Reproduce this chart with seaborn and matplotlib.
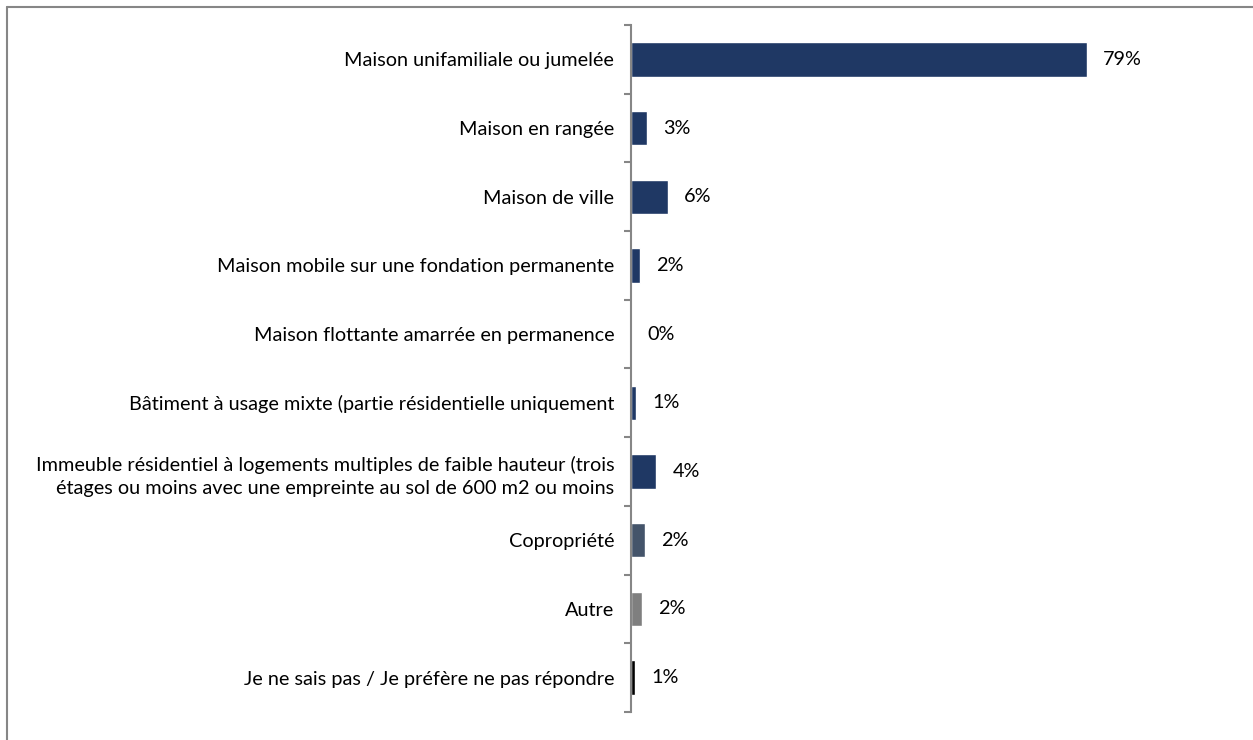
import matplotlib
matplotlib.use("Agg")
import matplotlib.pyplot as plt
from matplotlib.lines import Line2D
import seaborn as sns
import pandas as pd

categories = [
    "Maison unifamiliale ou jumelée",
    "Maison en rangée",
    "Maison de ville",
    "Maison mobile sur une fondation permanente",
    "Maison flottante amarrée en permanence",
    "Bâtiment à usage mixte (partie résidentielle uniquement",
    "Immeuble résidentiel à logements multiples de faible hauteur (trois\n"
    "étages ou moins avec une empreinte au sol de 600 m2 ou moins",
    "Copropriété",
    "Autre",
    "Je ne sais pas / Je préfère ne pas répondre",
]
values = [79.0, 2.8, 6.4, 1.6, 0.0, 0.9, 4.4, 2.4, 1.9, 0.7]
labels = ["79%", "3%", "6%", "2%", "0%", "1%", "4%", "2%", "2%", "1%"]
colors = ["#1F3864"] * 7 + ["#44546A", "#7F7F7F", "#000000"]

df = pd.DataFrame({"cat": categories, "val": values})

sns.set_style("white")
plt.rcParams["font.family"] = ["Lato", "DejaVu Sans"]

fig = plt.figure(figsize=(12.53, 7.40), dpi=100)
ax = fig.add_axes([631 / 1253, 28 / 740, 577 / 1253, 687 / 740])

sns.barplot(data=df, y="cat", x="val", hue="cat", palette=colors,
            orient="h", width=0.5, legend=False, ax=ax, saturation=1)

ax.set_xlim(0, 100)
ax.set_ylim(9.5, -0.5)
ax.set_xlabel("")
ax.set_ylabel("")
ax.set_xticks([])

for s in ["top", "right", "bottom"]:
    ax.spines[s].set_visible(False)
ax.spines["left"].set_color("#868686")
ax.spines["left"].set_linewidth(1.5)

ax.set_yticks(range(len(categories)))
ax.set_yticklabels(categories, fontsize=14.3, color="#000000",
                   multialignment="right", linespacing=1.45)
ax.tick_params(axis="y", which="major", length=0, pad=12)
ax.set_yticks([i - 0.5 for i in range(len(categories) + 1)], minor=True)
ax.tick_params(axis="y", which="minor", left=True, length=5, width=1.5,
               color="#868686", direction="out")

for i, (v, lab) in enumerate(zip(values, labels)):
    ax.text(v + 2.8, i, lab, ha="left", va="center", fontsize=14.3,
            color="#000000")

# outer chart frame (only top and left visible)
fig.add_artist(Line2D([7 / 1253, 1], [1 - 7 / 740, 1 - 7 / 740],
                      transform=fig.transFigure, color="#868686", lw=1.5))
fig.add_artist(Line2D([7 / 1253, 7 / 1253], [0, 1 - 7 / 740],
                      transform=fig.transFigure, color="#868686", lw=1.5))

fig.savefig("out.png", dpi=100, facecolor="white")
